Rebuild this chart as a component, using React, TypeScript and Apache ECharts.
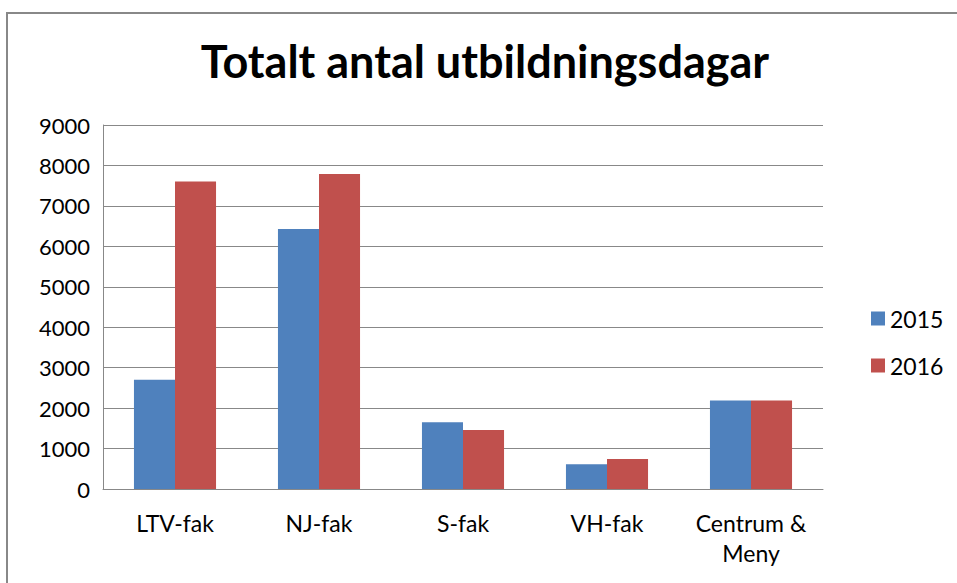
import React, { useEffect, useRef } from "react";
import * as echarts from "echarts";

const categories = ["LTV-fak", "NJ-fak", "S-fak", "VH-fak", "Centrum &\nMeny"];
const seriesNames = ["2015", "2016"];
const values2015 = [2700, 6430, 1650, 610, 2190];
const values2016 = [7600, 7790, 1460, 740, 2190];
const yTicks = { min: 0, max: 9000, interval: 1000 };
const titleText = "Totalt antal utbildningsdagar";

export default function App() {
  const ref = useRef<HTMLDivElement>(null);
  useEffect(() => {
    if (!ref.current) return;
    const chart = echarts.init(ref.current, undefined, { renderer: "svg" });
    const font = "Lato";
    chart.setOption({
      animation: false,
      backgroundColor: "#ffffff",
      color: ["#4F81BD", "#C0504D"],
      title: {
        text: titleText,
        left: 480,
        textAlign: "center",
        top: 33,
        textStyle: { fontFamily: font, fontWeight: "bold", fontSize: 45, color: "#000" },
      },
      graphic: [
        {
          type: "rect",
          shape: { x: 7, y: 13, width: 1000, height: 600 },
          style: { fill: "none", stroke: "#888888", lineWidth: 2 },
          silent: true,
        },
      ],
      legend: {
        orient: "vertical",
        left: 866,
        top: 302,
        itemWidth: 14,
        itemHeight: 14,
        itemGap: 24,
        icon: "rect",
        textStyle: { fontFamily: font, fontSize: 23, color: "#000", lineHeight: 20 },
        data: seriesNames,
      },
      grid: { left: 103, right: 134, top: 125, bottom: 94, containLabel: false },
      xAxis: {
        type: "category",
        data: categories,
        axisLine: { lineStyle: { color: "#888888", width: 1 } },
        axisTick: { show: false },
        axisLabel: {
          fontFamily: font,
          fontSize: 23,
          color: "#000",
          margin: 19,
          lineHeight: 30,
          interval: 0,
        },
      },
      yAxis: {
        type: "value",
        min: yTicks.min,
        max: yTicks.max,
        interval: yTicks.interval,
        axisLine: { show: true, lineStyle: { color: "#888888", width: 1 } },
        axisTick: { show: false },
        splitLine: { lineStyle: { color: "#888888", width: 1 } },
        axisLabel: {
          fontFamily: font,
          fontSize: 22,
          color: "#000",
          margin: 13,
          formatter: (v: number) => String(v),
        },
      },
      series: [
        {
          name: seriesNames[0],
          type: "bar",
          data: values2015,
          barGap: "0%",
          barCategoryGap: "43%",
        },
        {
          name: seriesNames[1],
          type: "bar",
          data: values2016,
          barGap: "0%",
          barCategoryGap: "43%",
        },
      ],
    });
    return () => chart.dispose();
  }, []);
  return (
    <div
      ref={ref}
      style={{ position: "absolute", left: 0, top: 0, width: 957, height: 583 }}
    />
  );
}
